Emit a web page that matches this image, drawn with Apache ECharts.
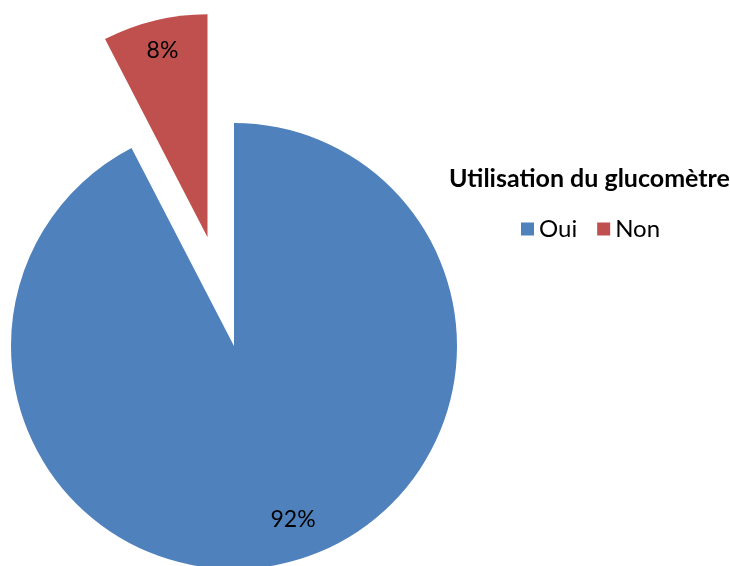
<!DOCTYPE html>
<html><head><meta charset="utf-8">
<script src="https://cdn.jsdelivr.net/npm/echarts@6/dist/echarts.min.js"></script>
<style>html,body{margin:0;padding:0;background:#fff}#c{width:730px;height:566px}</style>
</head><body><div id="c"></div>
<script>
const categories = ['Oui', 'Non'];
const values = [92.4, 7.6];
const colors = ['#4F81BD', '#C0504D'];
const titleText = 'Utilisation du glucomètre';

const chart = echarts.init(document.getElementById('c'), null, {renderer: 'canvas'});
const labelShift = [[32, 62], [-18, -75]];
chart.setOption({
  animation: false,
  title: {
    text: titleText, left: 444, top: 161,
    textStyle: {fontFamily: 'Lato', fontWeight: 'bold', fontSize: 25, color: '#000'}
  },
  legend: {
    data: categories, left: 516, top: 212, itemWidth: 13, itemHeight: 13, itemGap: 20,
    icon: 'rect',
    textStyle: {fontFamily: 'Lato', fontSize: 24, color: '#000'}
  },
  series: [{
    type: 'pie',
    center: [234, 346],
    radius: 223,
    startAngle: 90,
    clockwise: true,
    selectedMode: 'single',
    selectedOffset: 112,
    emphasis: {disabled: true},
    label: {
      position: 'inside',
      fontFamily: 'Lato', fontSize: 23, color: '#000',
      formatter: p => Math.round(p.percent) + '%'
    },
    labelLayout: p => ({dx: labelShift[p.dataIndex][0], dy: labelShift[p.dataIndex][1]}),
    labelLine: {show: false},
    data: categories.map((c, i) => ({
      name: c, value: values[i], selected: i === 1,
      itemStyle: {color: colors[i]}
    }))
  }]
});
</script></body></html>
